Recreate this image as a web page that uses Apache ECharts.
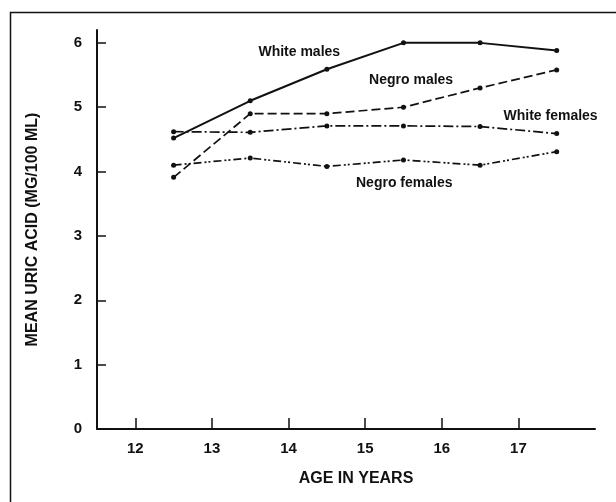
<!DOCTYPE html>
<html>
<head>
<meta charset="utf-8">
<script src="https://cdn.jsdelivr.net/npm/echarts@6/dist/echarts.min.js"></script>
<style>html,body{margin:0;padding:0;background:#fff;}#c{width:616px;height:502px;}</style>
</head>
<body>
<div id="c"></div>
<script>
const ages = [12.5, 13.5, 14.5, 15.5, 16.5, 17.5];
const whiteMales = [4.52, 5.1, 5.59, 6.0, 6.0, 5.88];
const negroMales = [3.91, 4.9, 4.9, 5.0, 5.3, 5.58];
const whiteFemales = [4.62, 4.61, 4.71, 4.71, 4.7, 4.59];
const negroFemales = [4.1, 4.21, 4.08, 4.18, 4.1, 4.31];
const xTicks = [12, 13, 14, 15, 16, 17];
const yTicks = [0, 1, 2, 3, 4, 5, 6];
const seriesNames = ['White males', 'Negro males', 'White females', 'Negro females'];
const labelPos = [[14.14, 5.85], [15.6, 5.42], [17.42, 4.86], [15.51, 3.82]];

const ink = '#111';
const font = '"Liberation Sans", Arial, sans-serif';
const dashes = ['solid', [9, 4], [10, 3, 2, 3], [8, 3, 2, 2, 2, 3]];
const allData = [whiteMales, negroMales, whiteFemales, negroFemales];

const series = allData.map((vals, i) => ({
  name: seriesNames[i],
  type: 'line',
  data: ages.map((a, j) => [a, vals[j]]),
  symbol: 'circle',
  symbolSize: 5,
  itemStyle: { color: ink },
  lineStyle: { color: ink, width: i === 0 ? 2 : 1.7, type: dashes[i] },
  animation: false,
  markPoint: {
    symbol: 'circle',
    symbolSize: 0,
    animation: false,
    data: [{
      coord: labelPos[i],
      label: { show: true, formatter: seriesNames[i], position: 'inside', color: ink, fontSize: 14, fontWeight: 'bold', fontFamily: font }
    }]
  }
}));

const chart = echarts.init(document.getElementById('c'));
chart.setOption({
  backgroundColor: '#fff',
  animation: false,
  grid: { left: 97, right: 21, top: 30, bottom: 73 },
  xAxis: {
    type: 'value', min: 11.5, max: 18,
    name: 'AGE IN YEARS', nameLocation: 'middle', nameGap: 42,
    nameTextStyle: { color: ink, fontSize: 16, fontWeight: 'bold', fontFamily: font, padding: [0, 0, 0, 20] },
    axisLine: { show: true, lineStyle: { color: ink, width: 2 } },
    axisTick: { show: true, inside: true, length: 11, customValues: xTicks, lineStyle: { color: ink, width: 1.5 } },
    axisLabel: { customValues: xTicks, color: ink, fontSize: 15, fontWeight: 'bold', fontFamily: font, margin: 12 },
    splitLine: { show: false }
  },
  yAxis: {
    type: 'value', min: 0, max: 6.2,
    name: 'MEAN URIC ACID (MG/100 ML)', nameLocation: 'middle', nameGap: 56,
    nameTextStyle: { color: ink, fontSize: 16, fontWeight: 'bold', fontFamily: font },
    axisLine: { show: true, lineStyle: { color: ink, width: 2 } },
    axisTick: { show: true, inside: true, length: 9, customValues: yTicks, lineStyle: { color: ink, width: 1.5 } },
    axisLabel: { customValues: yTicks, color: ink, fontSize: 15, fontWeight: 'bold', fontFamily: font, margin: 15 },
    splitLine: { show: false }
  },
  graphic: [{
    type: 'rect', left: 8, top: 10, shape: { width: 640, height: 520 },
    style: { fill: 'none', stroke: ink, lineWidth: 1.5 }, silent: true
  }],
  series: series
});
</script>
</body>
</html>
